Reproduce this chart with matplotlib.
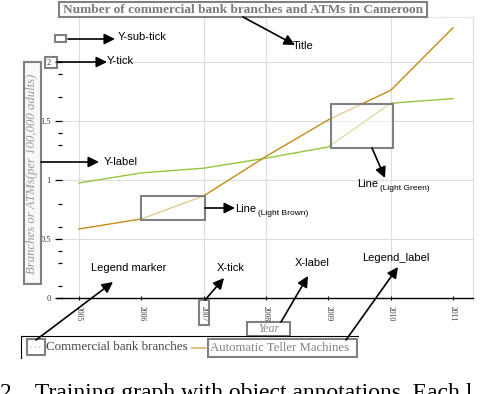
import matplotlib
matplotlib.use("Agg")
import matplotlib.pyplot as plt
from matplotlib.patches import Rectangle
from matplotlib.lines import Line2D

years = [2005, 2006, 2007, 2008, 2009, 2010, 2011]
branches = [0.975, 1.06, 1.10, 1.185, 1.28, 1.65, 1.69]
atms = [0.585, 0.67, 0.865, 1.20, 1.51, 1.76, 2.29]

title = "Number of commercial bank branches and ATMs in Cameroon"
ylabel = "Branches or ATMs(per 100,000 adults)"
xlabel = "Year"
series_names = ["Commercial bank branches", "Automatic Teller Machines"]
y_major = [0, 0.5, 1, 1.5, 2]
y_major_labels = ["0", "0.5", "1", "1.5", "2"]
y_minor = [0.1, 0.3, 0.4, 0.6, 0.8, 1.3, 1.4, 1.7, 1.9]
caption = "2.   Training graph with object annotations. Each l"

green = "#94c73a"
brown = "#c48c12"
W, H = 492, 394

fig = plt.figure(figsize=(W / 100, H / 100), dpi=100)

# main chart, placed in pixel terms
ax = fig.add_axes([62 / W, 1 - 298 / H, (473 - 62) / W, (298 - 17) / H])
ax.plot(years, branches, color=green, lw=1.0)
ax.plot(years, atms, color=brown, lw=1.0)
ax.set_xlim(2004.727, 2011.32)
ax.set_ylim(0, 2.381)
ax.set_yticks(y_major)
ax.set_yticklabels(y_major_labels, fontfamily="Liberation Serif", fontsize=6, color="#333")
ax.set_yticks(y_minor, minor=True)
ax.tick_params(axis="y", which="major", length=5, width=0.9, pad=3)
ax.tick_params(axis="y", which="minor", length=3, width=0.9)
ax.set_xticks(years)
ax.set_xticklabels([str(y) for y in years], rotation=-90, fontfamily="Liberation Serif",
                   fontsize=5.5, color="#333")
ax.tick_params(axis="x", length=3, width=0.8, direction="inout", pad=4)
for v in y_major[1:]:
    ax.axhline(v, color="#dddddd", lw=0.8, zorder=0)
for v in [2005, 2007, 2008, 2010]:
    ax.axvline(v, color="#dddddd", lw=0.8, zorder=0)
ax.spines["left"].set_visible(False)
ax.spines["right"].set_color("#dddddd")
ax.spines["top"].set_color("#dddddd")
ax.spines["top"].set_linestyle(":")
ax.spines["bottom"].set_linewidth(1.0)

# overlay in pixel coordinates for the annotation layer
ov = fig.add_axes([0, 0, 1, 1])
ov.set_xlim(0, W)
ov.set_ylim(H, 0)
ov.axis("off")
ov.patch.set_alpha(0)
ov.set_zorder(5)
ov.plot([57, 62], [298, 298], color="k", lw=1.0)


def box(x0, y0, x1, y1, fill="#f8f8f8", alpha=1.0, lw=1.5):
    ov.add_patch(Rectangle((x0, y0), x1 - x0, y1 - y0, facecolor=fill, alpha=alpha,
                           edgecolor="none"))
    ov.add_patch(Rectangle((x0, y0), x1 - x0, y1 - y0, facecolor="none",
                           edgecolor="#808080", lw=lw))


def arrow(x0, y0, x1, y1):
    ov.annotate("", xy=(x1, y1), xytext=(x0, y0),
                arrowprops=dict(arrowstyle="-|>", color="k", lw=1.2, mutation_scale=16,
                                shrinkA=0, shrinkB=0))


sans = dict(fontfamily="Liberation Sans", fontsize=8, color="k", va="center", ha="left")

# title box
box(59, 2, 427, 17, fill="white")
ov.text(243, 9.5, title, ha="center", va="center", fontfamily="Liberation Serif",
        fontweight="bold", fontsize=9.6, color="#7a7a7a")

# y label box
box(24, 62, 41, 284)
ov.text(32.5, 174, ylabel, rotation=90, ha="center", va="center",
        fontfamily="Liberation Serif", style="italic", fontsize=9.2, color="#9a9a9a")

# x label box
box(247, 322, 290, 336, fill="white")
ov.text(268.5, 329, xlabel, ha="center", va="center", fontfamily="Liberation Serif",
        style="italic", fontsize=8.5, color="#8a8a8a")

# small boxes
box(55, 35, 66, 42, fill="white")
box(45, 57, 57, 68, fill="none")
box(199, 300, 209, 325, fill="none")

# highlighted line segments
box(141, 196, 205, 220, fill="white", alpha=0.55)
box(331, 104, 393, 148, fill="white", alpha=0.55)

# legend
ov.plot([21, 358], [336, 336], color="k", lw=0.8)
ov.plot([21, 21], [336, 358], color="k", lw=0.8)
box(27, 339, 45, 355, fill="white")
ov.add_line(Line2D([30, 42], [347, 347], color="#c8e0a0", lw=1.2, ls=":"))
ov.text(46, 347, series_names[0], ha="left", va="center", fontfamily="Liberation Serif",
        fontsize=9.4, color="#444")
ov.add_line(Line2D([192, 205], [348, 348], color="#e0c080", lw=1.5))
box(208, 339, 357, 357, fill="white")
ov.text(210, 348, series_names[1], ha="left", va="center", fontfamily="Liberation Serif",
        fontsize=9.2, color="#808080")

# annotation arrows and labels
arrow(68, 39, 115, 39)
ov.text(118, 37, "Y-sub-tick", **sans)
arrow(57, 62, 107, 62)
ov.text(107, 61, "Y-tick", **sans)
arrow(243, 17, 295, 45)
ov.text(293, 46, "Title", **sans)
arrow(41, 162, 99, 162)
ov.text(104, 162, "Y-label", **sans)
arrow(205, 208, 235, 208)
ov.text(235, 209, "Line", **sans)
ov.text(258, 213, "(Light Brown)", fontfamily="Liberation Sans", fontsize=6, va="center")
arrow(372, 148, 385, 178)
ov.text(357, 184, "Line", **sans)
ov.text(380, 188, "(Light Green)", fontfamily="Liberation Sans", fontsize=6, va="center")
arrow(36, 340, 113, 282)
ov.text(91, 268, "Legend marker", **sans)
arrow(205, 300, 224, 278)
ov.text(217, 268, "X-tick", **sans)
arrow(281, 322, 308, 276)
ov.text(295, 263, "X-label", **sans)
arrow(346, 340, 398, 267)
ov.text(362, 258, "Legend_label", **sans)

# figure caption cut at the bottom edge, as in the source image
ov.text(0, 383, caption, ha="left", va="top", fontfamily="Liberation Serif", fontsize=17,
        color="k")

fig.savefig("out.png", dpi=100)
